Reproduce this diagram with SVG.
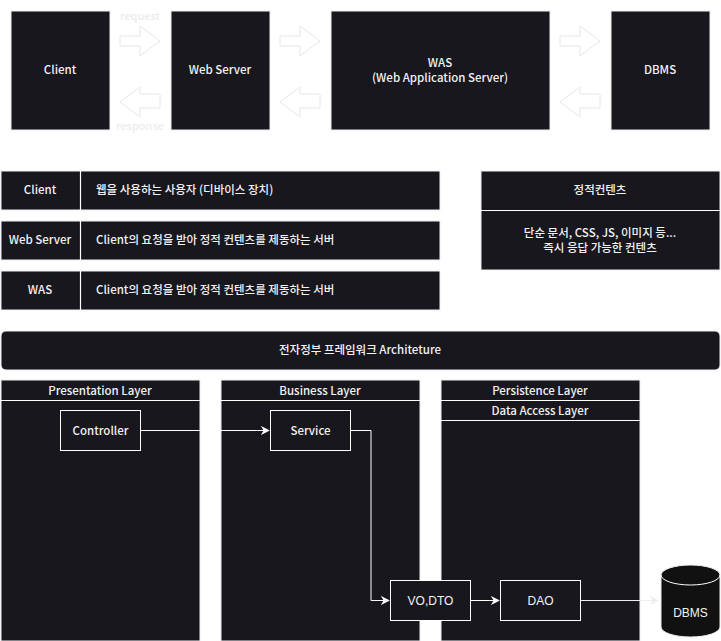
<svg xmlns="http://www.w3.org/2000/svg" width="721" height="641" viewBox="0 0 721 641">
<defs>
<style>
.box{fill:#19171e;stroke:#eeeeee;stroke-width:1}
.inner{fill:#19171e;stroke:#ffffff;stroke-width:1}
.t{font-family:"Noto Sans CJK KR","Noto Sans",sans-serif;font-size:11.5px;font-weight:500;fill:#f2f2f2;text-anchor:middle;dominant-baseline:central}
.tl{text-anchor:start}
.a{font-family:"Liberation Sans",Arial,sans-serif;font-size:12px;fill:#f2f2f2;text-anchor:middle;dominant-baseline:central}
.ba{fill:#ffffff;stroke:#e6e6e6;stroke-width:1}
.lbl{font-family:"Noto Sans CJK KR","Noto Sans",sans-serif;font-size:11px;font-weight:500;fill:#ececec;text-anchor:middle;dominant-baseline:central}
.sep{stroke:#ffffff;stroke-width:1.2}
.ln{fill:none;stroke:#ffffff;stroke-width:1}
.lnl{fill:none;stroke:#eeeeee;stroke-width:1}
</style>
<marker id="ah" viewBox="0 0 10 10" refX="9" refY="5" markerWidth="9" markerHeight="9" markerUnits="userSpaceOnUse" orient="auto">
<path d="M0,0 L10,5 L0,10 L3,5 Z" fill="#ffffff"/>
</marker>
<marker id="ahl" viewBox="0 0 10 10" refX="9" refY="5" markerWidth="9" markerHeight="9" markerUnits="userSpaceOnUse" orient="auto">
<path d="M0,0 L10,5 L0,10 L3,5 Z" fill="#eeeeee"/>
</marker>
</defs>
<rect width="721" height="641" fill="#ffffff"/>

<!-- top row -->
<g id="client"><rect class="box" x="11" y="11" width="99" height="119"/><text class="t" x="60" y="69">Client</text></g>
<g id="webserver"><rect class="box" x="171" y="11" width="99" height="119"/><text class="t" x="220" y="69">Web Server</text></g>
<g id="was"><rect class="box" x="331" y="11" width="219" height="119"/><text class="t" x="440" y="61.5">WAS</text><text class="t" x="440" y="76.5">(Web Application Server)</text></g>
<g id="dbms-top"><rect class="box" x="611" y="11" width="99" height="119"/><text class="t" x="660" y="69">DBMS</text></g>

<g id="flow-arrows">
<path class="ba" d="M120,36 H140 V26 L160,41 L140,56 V46 H120 Z"/>
<path class="ba" d="M160,94 H140 V87 L120,102 L140,117 V108 H160 Z"/>
<path class="ba" d="M280,36 H300 V26 L320,41 L300,56 V46 H280 Z"/>
<path class="ba" d="M320,94 H300 V87 L280,102 L300,117 V108 H320 Z"/>
<path class="ba" d="M560,36 H580 V26 L600,41 L580,56 V46 H560 Z"/>
<path class="ba" d="M600,94 H580 V87 L560,102 L580,117 V108 H600 Z"/>
<text class="lbl" x="140" y="15">request</text>
<text class="lbl" x="140" y="125">response</text>
</g>

<!-- table -->
<g id="row-client"><rect class="box" x="1" y="171" width="439" height="39"/><line class="sep" x1="80.5" y1="171" x2="80.5" y2="210"/><text class="t" x="40" y="189">Client</text><text class="t tl" x="96" y="189">웹을 사용하는 사용자 (디바이스 장치)</text></g>
<g id="row-webserver"><rect class="box" x="1" y="221" width="439" height="39"/><line class="sep" x1="80.5" y1="221" x2="80.5" y2="260"/><text class="t" x="40" y="239">Web Server</text><text class="t tl" x="96" y="239">Client의 요청을 받아 정적 컨텐츠를 제동하는 서버</text></g>
<g id="row-was"><rect class="box" x="1" y="271" width="439" height="39"/><line class="sep" x1="80.5" y1="271" x2="80.5" y2="310"/><text class="t" x="40" y="289">WAS</text><text class="t tl" x="96" y="289">Client의 요청을 받아 정적 컨텐츠를 제동하는 서버</text></g>

<g id="static"><rect class="box" x="481" y="171" width="239" height="99"/><line class="sep" x1="481" y1="210.5" x2="720" y2="210.5"/><text class="t" x="600" y="189">정적컨텐츠</text><text class="t" x="600" y="231.5">단순 문서, CSS, JS, 이미지 등...</text><text class="t" x="600" y="246.5">즉시 응답 가능한 컨텐츠</text></g>

<!-- architecture -->
<g id="banner"><rect class="box" x="1" y="331" width="719" height="39" rx="5"/><text class="t" x="360" y="349">전자정부 프레임워크 Architeture</text></g>

<g id="presentation"><rect class="box" x="1" y="380" width="199" height="261"/><line class="sep" x1="1" y1="400.5" x2="200" y2="400.5"/><text class="t" x="100" y="389.5">Presentation Layer</text></g>
<g id="business"><rect class="box" x="221" y="380" width="199" height="261"/><line class="sep" x1="221" y1="400.5" x2="420" y2="400.5"/><text class="t" x="320" y="389.5">Business Layer</text></g>
<g id="persistence"><rect class="box" x="441" y="380" width="199" height="261"/><line class="sep" x1="441" y1="400.5" x2="640" y2="400.5"/><line class="sep" x1="441" y1="420.5" x2="640" y2="420.5"/><text class="t" x="540" y="389.5">Persistence Layer</text><text class="t" x="540" y="409.5">Data Access Layer</text></g>

<g id="connectors">
<path class="ln" d="M141,430.5 H269" marker-end="url(#ah)"/>
<path class="ln" d="M351,430.5 H371 V600.5 H389" marker-end="url(#ah)"/>
<path class="ln" d="M471,600.5 H499" marker-end="url(#ah)"/>
<path class="lnl" d="M581,600.5 H658" marker-end="url(#ahl)"/>
</g>

<g id="controller"><rect class="inner" x="60.5" y="410.5" width="80" height="40"/><text class="t" x="100.5" y="429.5">Controller</text></g>
<g id="service"><rect class="inner" x="270.5" y="410.5" width="80" height="40"/><text class="t" x="310.5" y="429.5">Service</text></g>
<g id="vodto"><rect class="inner" x="390.5" y="580.5" width="80" height="40"/><text class="a" x="430.5" y="600.5">VO,DTO</text></g>
<g id="dao"><rect class="inner" x="500.5" y="580.5" width="80" height="40"/><text class="a" x="540.5" y="600.5">DAO</text></g>

<g id="dbms">
<path d="M661,575 A29.5,10 0 0 1 720,575 V627 A29.5,10 0 0 1 661,627 Z" fill="#111111" stroke="#eeeeee" stroke-width="1"/>
<path d="M661,575 A29.5,10 0 0 0 720,575" fill="none" stroke="#ffffff" stroke-width="1"/>
<text class="a" x="690.5" y="613">DBMS</text>
</g>
</svg>
